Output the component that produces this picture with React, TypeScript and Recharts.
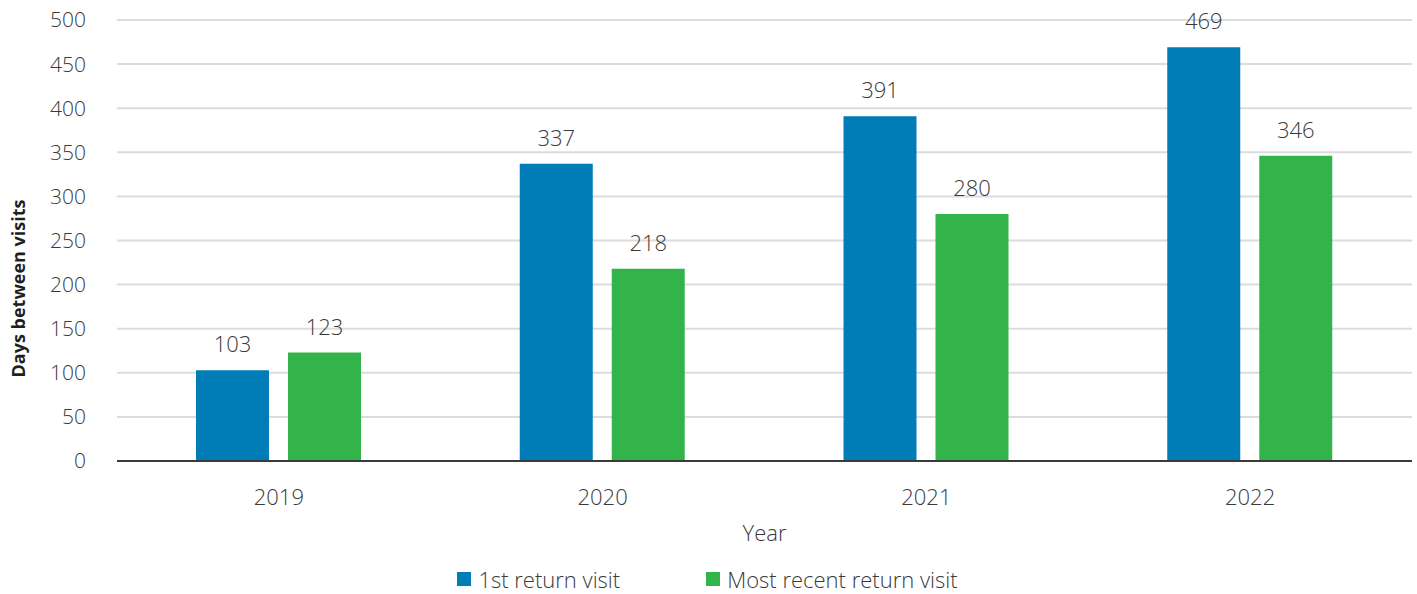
import React from "react"
import { BarChart, Bar, XAxis, YAxis, CartesianGrid, Legend, LabelList, Label } from "recharts"

const years = ["2019", "2020", "2021", "2022"]
const firstReturn = [103, 337, 391, 469]
const mostRecentReturn = [123, 218, 280, 346]
const yTicks = [0, 50, 100, 150, 200, 250, 300, 350, 400, 450, 500]

const BLUE = "#007CB6"
const GREEN = "#33B44B"
const TEXT = "#3a3a3a"
const FONT = "'Open Sans', sans-serif"

const data = years.map((year, i) => ({
  year,
  first: firstReturn[i],
  recent: mostRecentReturn[i],
}))

const legendItems = [
  { label: "1st return visit", color: BLUE },
  { label: "Most recent return visit", color: GREEN },
]

function ChartLegend() {
  return (
    <div
      style={{
        height: 30,
        display: "flex",
        justifyContent: "center",
        alignItems: "center",
        gap: 86,
        fontFamily: FONT,
        fontWeight: 300,
        fontSize: 22,
        lineHeight: "30px",
        color: TEXT,
        marginLeft: -4,
      }}
    >
      {legendItems.map((item) => (
        <div key={item.label} style={{ display: "flex", alignItems: "center", gap: 7 }}>
          <span style={{ width: 14, height: 14, background: item.color, display: "inline-block" }} />
          <span>{item.label}</span>
        </div>
      ))}
    </div>
  )
}

export default function App() {
  const yTickStyle = { fill: TEXT, fontSize: 21, fontFamily: FONT, fontWeight: 300 }
  const xTickStyle = { ...yTickStyle, fontSize: 22 }
  return (
    <div style={{ width: 1417, height: 594, background: "#fff" }}>
      <style>{"body{margin:0}"}</style>
      <BarChart
        width={1417}
        height={594}
        data={data}
        margin={{ top: 20, right: 5, bottom: 0, left: 7 }}
        barSize={73}
        barGap={19}
      >
        <CartesianGrid vertical={false} stroke="#dcdcdc" strokeWidth={2} />
        <XAxis
          dataKey="year"
          height={103}
          tickLine={false}
          tickMargin={22}
          axisLine={{ stroke: TEXT, strokeWidth: 2 }}
          tick={xTickStyle}
        >
          <Label
            content={({ viewBox }: any) => (
              <text
                x={viewBox.x + viewBox.width / 2}
                y={viewBox.y + 80}
                textAnchor="middle"
                fill={TEXT}
                fontSize={22}
                fontFamily={FONT}
                fontWeight={300}
              >
                Year
              </text>
            )}
          />
        </XAxis>
        <YAxis
          width={110}
          domain={[0, 500]}
          ticks={yTicks}
          interval={0}
          axisLine={false}
          tickLine={false}
          tickMargin={25}
          tick={yTickStyle}
        >
          <Label
            content={({ viewBox }: any) => {
              const x = viewBox.x + 18
              const y = viewBox.y + viewBox.height / 2 + 48
              return (
                <text
                  x={x}
                  y={y}
                  transform={`rotate(-90, ${x}, ${y})`}
                  textAnchor="middle"
                  fill="#1f1f1f"
                  fontSize={18}
                  fontFamily={FONT}
                  fontWeight={700}
                >
                  Days between visits
                </text>
              )
            }}
          />
        </YAxis>
        <Legend verticalAlign="bottom" content={<ChartLegend />} />
        <Bar dataKey="first" name="1st return visit" fill={BLUE} isAnimationActive={false}>
          <LabelList
            dataKey="first"
            position="top"
            offset={18}
            fill={TEXT}
            fontSize={22}
            fontFamily={FONT}
            fontWeight={300}
          />
        </Bar>
        <Bar dataKey="recent" name="Most recent return visit" fill={GREEN} isAnimationActive={false}>
          <LabelList
            dataKey="recent"
            position="top"
            offset={18}
            fill={TEXT}
            fontSize={22}
            fontFamily={FONT}
            fontWeight={300}
          />
        </Bar>
      </BarChart>
    </div>
  )
}
